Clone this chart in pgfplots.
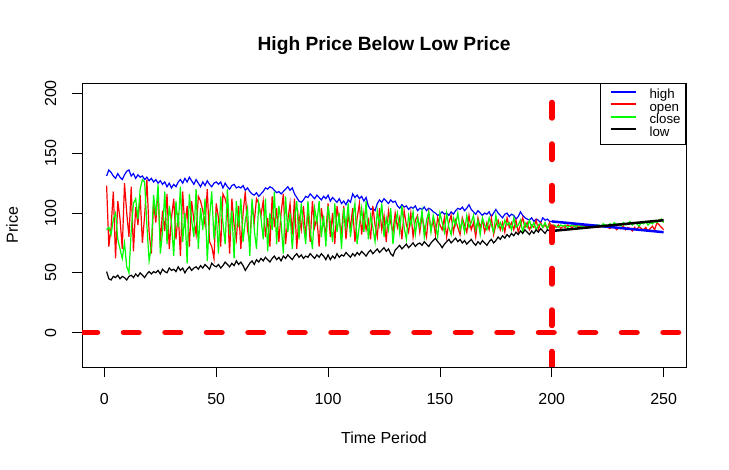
\documentclass[border=0pt]{standalone}
\usepackage{fontspec}
\setmainfont{Liberation Sans}
\usepackage{pgfplots}
\pgfplotsset{compat=1.18}
\definecolor{rblue}{RGB}{0,0,255}
\definecolor{rred}{RGB}{255,0,0}
\definecolor{rgreen}{RGB}{0,255,0}
\begin{document}
\begin{tikzpicture}
\path[use as bounding box] (0,0) rectangle (729bp,470bp);
\begin{axis}[
  scale only axis,
  width=604bp, height=284bp,
  at={(82bp,103bp)}, anchor=south west,
  xmin=-10, xmax=260, ymin=-28.8, ymax=208.8,
  xtick={0,50,100,150,200,250},
  ytick={0,50,100,150,200},
  xtick pos=lower, ytick pos=lower,
  tick align=outside,
  major tick length=9.6bp,
  tick style={black, line width=0.8bp},
  axis line style={black, line width=0.8bp},
  /pgf/number format/assume math mode=true,
  tick label style={font=\fontsize{16bp}{19bp}\selectfont},
  xticklabel style={anchor=north, inner sep=0pt},
  yticklabel style={rotate=90, anchor=south, inner sep=0pt},
  xticklabel shift=17bp,
  yticklabel shift=16bp,
  every axis title shift=0pt,
  title={High Price Below Low Price},
  title style={at={(axis description cs:0.5,1.116)}, anchor=base, inner sep=0pt, font=\bfseries\fontsize{19.2bp}{23bp}\selectfont},
  xlabel={Time Period},
  xlabel style={at={(axis description cs:0.5,-0.27)}, anchor=base, inner sep=0pt, font=\fontsize{16bp}{19bp}\selectfont},
  ylabel={Price},
  ylabel style={at={(axis description cs:-0.106,0.5)}, anchor=base, inner sep=0pt, font=\fontsize{16bp}{19bp}\selectfont},
  legend cell align=left,
  legend image code/.code={\path[draw=none,fill=none] (0bp,3.5bp) -- (30bp,3.5bp); \draw[#1, line width=2bp] (5bp,3.5bp) -- (30bp,3.5bp);},
  legend style={at={(1,1)}, anchor=north east, draw=black, line width=0.8bp,
    inner xsep=5bp, inner ysep=5.75bp, column sep=13bp, row sep=0pt,
    font=\fontsize{13.3bp}{15bp}\selectfont,
    nodes={inner sep=0pt, text height=9.5bp, text depth=3bp}},
]
% high
\addplot[rblue, line width=1.2bp] table[header=false, row sep=\\, x expr=\coordindex+1, y index=0] {
131\\136\\134\\131\\129\\133\\130\\128\\132\\135\\
136\\131\\133\\129\\132\\130\\131\\128\\130\\127\\
129\\126\\128\\125\\127\\124\\126\\122\\125\\121\\
124\\122\\126\\128\\125\\129\\126\\130\\127\\124\\
128\\125\\122\\126\\123\\127\\124\\122\\125\\126\\
124\\126\\121\\125\\122\\120\\123\\124\\121\\122\\
121\\123\\119\\121\\118\\116\\115\\117\\114\\116\\
118\\121\\120\\122\\121\\119\\117\\118\\116\\118\\
120\\122\\119\\121\\116\\113\\110\\109\\111\\114\\
113\\116\\114\\112\\115\\113\\111\\114\\112\\115\\
110\\113\\111\\109\\112\\108\\110\\107\\111\\109\\
116\\113\\115\\112\\114\\110\\113\\106\\103\\104\\
102\\108\\111\\109\\112\\110\\108\\111\\109\\110\\
106\\104\\107\\105\\106\\103\\105\\104\\106\\102\\
104\\103\\105\\102\\104\\103\\101\\100\\98\\99\\
101\\99\\100\\98\\101\\99\\102\\104\\103\\105\\
102\\104\\107\\103\\101\\99\\102\\100\\98\\100\\
99\\101\\97\\100\\103\\100\\98\\96\\99\\100\\
97\\99\\98\\95\\97\\101\\98\\96\\95\\94\\
96\\93\\95\\94\\92\\96\\94\\95\\93\\93\\
};
\addlegendentry{high}
% open
\addplot[rred, line width=1.2bp] table[header=false, row sep=\\, x expr=\coordindex+1, y index=0] {
123\\72\\88\\118\\62\\110\\95\\70\\125\\100\\
80\\122\\68\\105\\90\\115\\75\\98\\128\\84\\
66\\108\\92\\120\\74\\102\\85\\116\\70\\96\\
112\\78\\100\\64\\118\\88\\106\\72\\110\\94\\
82\\114\\110\\102\\90\\120\\76\\72\\62\\108\\
96\\72\\116\\112\\104\\66\\112\\90\\78\\106\\
70\\100\\118\\86\\74\\108\\92\\112\\108\\98\\
110\\80\\96\\72\\114\\88\\104\\76\\100\\116\\
74\\94\\108\\82\\112\\70\\98\\86\\106\\80\\
102\\76\\110\\88\\96\\72\\104\\90\\84\\108\\
80\\100\\74\\106\\92\\84\\106\\78\\98\\88\\
104\\76\\96\\108\\82\\100\\86\\94\\78\\106\\
90\\80\\104\\86\\98\\76\\102\\92\\84\\100\\
88\\96\\78\\102\\90\\84\\100\\80\\94\\98\\
84\\98\\88\\80\\100\\86\\94\\82\\96\\90\\
86\\96\\80\\92\\98\\84\\94\\88\\82\\96\\
90\\84\\98\\86\\92\\80\\96\\88\\94\\84\\
92\\86\\96\\82\\90\\94\\86\\92\\84\\96\\
88\\92\\86\\94\\84\\90\\96\\88\\92\\86\\
90\\88\\94\\86\\92\\88\\90\\87\\92\\88\\
89\\88\\90\\87\\89\\88\\90\\89\\88\\89\\
90\\88\\89\\90\\89\\88\\89\\90\\89\\89\\
88\\89\\90\\89\\88\\87\\89\\88\\86\\88\\
87\\89\\86\\88\\87\\85\\88\\86\\89\\87\\
86\\88\\85\\87\\89\\86\\92\\90\\88\\86\\
};
\addlegendentry{open}
% close
\addplot[rgreen, line width=1.2bp] table[header=false, row sep=\\, x expr=\coordindex+1, y index=0] {
86\\88\\82\\95\\100\\78\\70\\62\\75\\55\\
50\\85\\108\\112\\95\\120\\128\\126\\90\\60\\
72\\115\\98\\124\\66\\84\\118\\74\\106\\92\\
64\\110\\88\\122\\76\\100\\58\\116\\94\\80\\
120\\70\\104\\86\\112\\60\\96\\118\\78\\100\\
66\\114\\92\\74\\120\\82\\102\\62\\110\\88\\
112\\76\\94\\104\\64\\112\\86\\70\\108\\96\\
78\\112\\68\\100\\86\\118\\74\\106\\92\\66\\
114\\84\\100\\70\\96\\110\\78\\108\\90\\74\\
110\\86\\70\\104\\92\\110\\80\\98\\72\\106\\
92\\76\\108\\84\\100\\70\\104\\88\\108\\80\\
96\\108\\74\\90\\104\\84\\110\\78\\98\\88\\
76\\102\\90\\108\\80\\96\\86\\104\\74\\92\\
100\\84\\106\\88\\78\\98\\90\\101\\82\\96\\
88\\102\\80\\94\\101\\84\\98\\90\\80\\100\\
92\\84\\100\\88\\82\\96\\90\\100\\86\\94\\
84\\98\\88\\92\\98\\86\\94\\82\\96\\90\\
86\\96\\90\\84\\98\\88\\92\\86\\94\\90\\
92\\86\\96\\88\\90\\94\\84\\92\\88\\94\\
88\\92\\86\\90\\91\\88\\92\\87\\90\\89\\
90\\89\\88\\90\\89\\90\\88\\89\\90\\89\\
89\\90\\89\\88\\90\\89\\90\\89\\89\\90\\
90\\89\\91\\90\\89\\91\\90\\92\\90\\91\\
89\\92\\90\\91\\93\\90\\92\\91\\89\\92\\
91\\93\\90\\92\\91\\93\\92\\94\\95\\92\\
};
\addlegendentry{close}
% low
\addplot[black, line width=1.2bp] table[header=false, row sep=\\, x expr=\coordindex+1, y index=0] {
51\\45\\44\\47\\46\\48\\45\\47\\46\\44\\
47\\48\\46\\49\\47\\50\\48\\46\\49\\51\\
49\\51\\50\\52\\49\\53\\51\\50\\54\\52\\
53\\51\\55\\52\\54\\50\\53\\55\\52\\54\\
55\\53\\56\\54\\57\\55\\53\\58\\56\\55\\
57\\54\\56\\59\\57\\55\\58\\56\\60\\57\\
59\\56\\52\\55\\58\\60\\57\\61\\59\\62\\
60\\63\\61\\59\\62\\64\\61\\63\\60\\64\\
62\\65\\63\\61\\64\\66\\63\\65\\62\\64\\
63\\66\\64\\62\\65\\63\\66\\64\\61\\65\\
61\\64\\62\\66\\63\\65\\64\\67\\65\\63\\
66\\64\\67\\65\\68\\66\\64\\67\\69\\66\\
68\\70\\67\\69\\71\\68\\70\\66\\64\\69\\
71\\73\\70\\72\\74\\71\\73\\75\\72\\74\\
75\\73\\76\\74\\72\\75\\77\\79\\76\\74\\
71\\74\\76\\78\\75\\77\\79\\76\\78\\75\\
77\\74\\76\\78\\75\\73\\76\\74\\77\\75\\
73\\76\\78\\75\\77\\80\\78\\81\\79\\82\\
80\\83\\81\\84\\82\\85\\83\\86\\84\\82\\
85\\83\\86\\84\\87\\85\\83\\86\\85\\85\\
};
\addlegendentry{low}
% thick segments after period 200
\addplot[rblue, line width=2.5bp, forget plot] coordinates {(200,93) (250,84)};
\addplot[black, line width=2.5bp, forget plot] coordinates {(200,85) (250,94)};
% reference lines
\addplot[rred, line width=5.5bp, line cap=round, dash pattern=on 15.5bp off 26bp, forget plot] coordinates {(-10,0) (260,0)};
\addplot[rred, line width=5.5bp, line cap=round, dash pattern=on 15.5bp off 26bp, forget plot] coordinates {(200,-28.8) (200,208.8)};
\end{axis}
\end{tikzpicture}
\end{document}
